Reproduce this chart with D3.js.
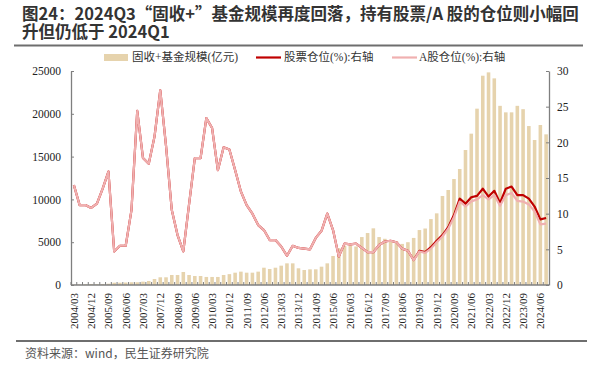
<!DOCTYPE html>
<html>
<head>
<meta charset="utf-8">
<script src="https://cdn.jsdelivr.net/npm/d3@7"></script>
<style>
  body { margin: 0; background: #fff; }
</style>
</head>
<body>
<div id="chart"></div>
<script>
// quarters 2004Q1 .. 2024Q3
var quarters = [];
for (var yr = 2004; yr <= 2024; yr++) {
  ["03", "06", "09", "12"].forEach(function(m) {
    if (!(yr === 2024 && m === "12")) quarters.push(yr + "/" + m);
  });
}

// 固收+基金规模(亿元), left axis
var fundSize = [40, 60, 80, 120, 100, 120, 150, 270, 270, 290,
  320, 320, 390, 470, 700, 900, 900, 1170, 1170, 1520,
  1170, 1050, 1050, 940, 940, 940, 1170, 1270, 1440, 1560,
  1440, 1440, 1560, 2020, 1870, 2020, 2260, 2530, 2530, 1950,
  1750, 1830, 1830, 2140, 2530, 3390, 4300, 4600, 4600, 4500,
  5600, 6070, 6620, 5600, 5400, 5260, 5100, 4800, 5000, 5500,
  6420, 6600, 7700, 8370, 10400, 11100, 12380, 13550, 15770, 17680,
  20600, 24450, 24840, 24140, 20930, 20170, 20170, 20930, 20540, 18570,
  16940, 18690, 17600];

// A股仓位(%), right axis
var aSharePos = [14.0, 11.2, 11.2, 10.8, 11.4, 13.5, 15.9, 4.7, 5.5, 5.5,
  10.5, 24.4, 17.8, 17.0, 20.8, 27.3, 19.5, 10.5, 7.0, 4.7,
  11.3, 17.8, 17.8, 23.4, 22.0, 16.1, 19.3, 19.0, 16.1, 13.1,
  11.2, 10.0, 8.4, 7.7, 6.3, 6.3, 5.4, 4.1, 5.5, 5.2,
  5.1, 5.0, 6.6, 7.6, 10.0, 7.7, 4.0, 5.8, 5.7, 5.8,
  5.2, 4.6, 4.6, 5.6, 6.1, 6.2, 6.0, 5.1, 4.8, 3.5,
  4.7, 4.5, 5.1, 6.0, 6.8, 7.9, 9.5, 11.7, 11.0, 11.7,
  12.0, 12.6, 12.0, 12.6, 11.1, 12.6, 12.9, 11.8, 11.7, 11.3,
  10.3, 8.5, 8.6];

// 股票仓位(%), right axis
var stockPos = [14.0, 11.2, 11.2, 10.8, 11.4, 13.5, 15.9, 4.7, 5.5, 5.5,
  10.5, 24.4, 17.8, 17.0, 20.8, 27.3, 19.5, 10.5, 7.0, 4.7,
  11.3, 17.8, 17.8, 23.4, 22.0, 16.1, 19.3, 19.0, 16.1, 13.1,
  11.2, 10.0, 8.4, 7.7, 6.3, 6.3, 5.4, 4.1, 5.5, 5.2,
  5.1, 5.0, 6.6, 7.6, 10.0, 7.7, 4.0, 5.8, 5.7, 5.8,
  5.2, 4.6, 4.6, 5.6, 6.1, 6.2, 6.0, 5.1, 4.8, 3.5,
  4.8, 4.6, 5.3, 6.2, 7.0, 8.1, 9.8, 12.1, 11.4, 12.3,
  12.5, 13.5, 12.4, 13.2, 11.5, 13.5, 13.8, 12.6, 12.6, 12.1,
  11.0, 9.2, 9.4];

var leftTicks = [0, 5000, 10000, 15000, 20000, 25000];
var rightTicks = [0, 5, 10, 15, 20, 25, 30];

var W = 595, H = 376;
var plot = {left: 71, right: 549, top: 71, bottom: 285};
var axisColor = "#7f7f7f";
var serif = "'Liberation Serif', 'Times New Roman', serif";
var cjk = "'Noto Sans CJK SC', sans-serif";

var svg = d3.select("#chart")
  .append("svg")
  .attr("width", W)
  .attr("height", H);

// title, two lines in one text element
var title = svg.append("text")
  .style("font-family", cjk)
  .attr("font-weight", "bold")
  .attr("font-size", "16.5px")
  .attr("fill", "#333");
title.append("tspan").attr("x", 22).attr("y", 19.5)
  .text("图24：2024Q3“固收+”基金规模再度回落，持有股票/A 股的仓位则小幅回");
title.append("tspan").attr("x", 22).attr("y", 37.5)
  .text("升但仍低于 2024Q1");

// rules
svg.append("line").attr("x1", 14).attr("x2", 583).attr("y1", 45.5).attr("y2", 45.5)
  .attr("stroke", "#6e6e6e").attr("stroke-width", 2);
svg.append("line").attr("x1", 16).attr("x2", 587).attr("y1", 341).attr("y2", 341)
  .attr("stroke", "#6e6e6e").attr("stroke-width", 2);

// source
svg.append("text").attr("x", 25).attr("y", 358)
  .style("font-family", cjk)
  .attr("font-size", "12px").attr("fill", "#555")
  .text("资料来源：wind，民生证券研究院");

// scales
var x = d3.scaleBand()
  .domain(quarters)
  .range([plot.left, plot.right])
  .paddingInner(0.38)
  .paddingOuter(0.19);

var yL = d3.scaleLinear().domain([0, 25000]).range([plot.bottom, plot.top]);
var yR = d3.scaleLinear().domain([0, 30]).range([plot.bottom, plot.top]);

// bars
svg.append("g")
  .selectAll("rect")
  .data(fundSize)
  .enter()
  .append("rect")
  .attr("x", function(d, i) { return x(quarters[i]); })
  .attr("width", x.bandwidth())
  .attr("y", function(d) { return yL(d); })
  .attr("height", function(d) { return yL(0) - yL(d); })
  .attr("fill", "#e6d3ad");

// lines
var cx = function(i) { return x(quarters[i]) + x.bandwidth() / 2; };
var line = d3.line()
  .x(function(d, i) { return cx(i); })
  .y(function(d) { return yR(d); });

svg.append("path")
  .datum(stockPos)
  .attr("d", line)
  .attr("fill", "none")
  .attr("stroke", "#c00000")
  .attr("stroke-width", 2.2)
  .attr("stroke-linejoin", "round");

svg.append("path")
  .datum(aSharePos)
  .attr("d", line)
  .attr("fill", "none")
  .attr("stroke", "#f0b0b0")
  .attr("stroke-width", 2.2)
  .attr("stroke-linejoin", "round");

// left axis
var gL = svg.append("g")
  .attr("transform", "translate(" + plot.left + ",0)")
  .call(d3.axisLeft(yL).tickValues(leftTicks).tickFormat(d3.format("d"))
    .tickSize(-3).tickPadding(10).tickSizeOuter(0));
// right axis
var gR = svg.append("g")
  .attr("transform", "translate(" + plot.right + ",0)")
  .call(d3.axisRight(yR).tickValues(rightTicks).tickFormat(d3.format("d"))
    .tickSize(-3).tickPadding(8).tickSizeOuter(0));

// x axis: ticks at band boundaries, labels every 3 quarters
var gX = svg.append("g")
  .attr("transform", "translate(0," + plot.bottom + ")");
gX.append("line").attr("x1", plot.left).attr("x2", plot.right)
  .attr("stroke", axisColor).attr("stroke-width", 1.3);
gX.selectAll(".qt")
  .data(quarters)
  .enter()
  .append("line")
  .attr("class", "qt")
  .attr("x1", function(d) { return x(d) - x.step() * x.paddingInner() / 2; })
  .attr("x2", function(d) { return x(d) - x.step() * x.paddingInner() / 2; })
  .attr("y1", 0).attr("y2", -3)
  .attr("stroke", axisColor);
gX.selectAll(".ql")
  .data(quarters.filter(function(d, i) { return i % 3 === 0; }))
  .enter()
  .append("text")
  .attr("class", "ql")
  .attr("transform", function(d) {
    return "translate(" + (x(d) + x.bandwidth() / 2 + 4) + ",8)rotate(-90)";
  })
  .attr("text-anchor", "end")
  .style("font-family", serif)
  .attr("font-size", "11px")
  .attr("fill", "#222")
  .text(function(d) { return d; });

[gL, gR].forEach(function(g) {
  g.select(".domain").attr("stroke", axisColor).attr("stroke-width", 1.3);
  g.selectAll(".tick line").attr("stroke", axisColor);
  g.selectAll(".tick text")
    .style("font-family", serif)
    .attr("font-size", "11.5px").attr("fill", "#222");
});

// legend
var lg = svg.append("g").attr("font-size", "11.5px").attr("fill", "#333");
lg.append("rect").attr("x", 104).attr("y", 54).attr("width", 24).attr("height", 7).attr("fill", "#e6d3ad");
lg.append("text").attr("x", 132).attr("y", 61).text("固收+基金规模(亿元)")
  .style("font-family", serif + ", " + cjk);
lg.append("line").attr("x1", 256).attr("x2", 281).attr("y1", 57.5).attr("y2", 57.5)
  .attr("stroke", "#c00000").attr("stroke-width", 2.2);
lg.append("text").attr("x", 284).attr("y", 61).text("股票仓位(%):右轴")
  .style("font-family", serif + ", " + cjk);
lg.append("line").attr("x1", 392).attr("x2", 417).attr("y1", 57.5).attr("y2", 57.5)
  .attr("stroke", "#f0b0b0").attr("stroke-width", 2.2);
lg.append("text").attr("x", 419).attr("y", 61).text("A股仓位(%):右轴")
  .style("font-family", serif + ", " + cjk);
</script>
</body>
</html>
